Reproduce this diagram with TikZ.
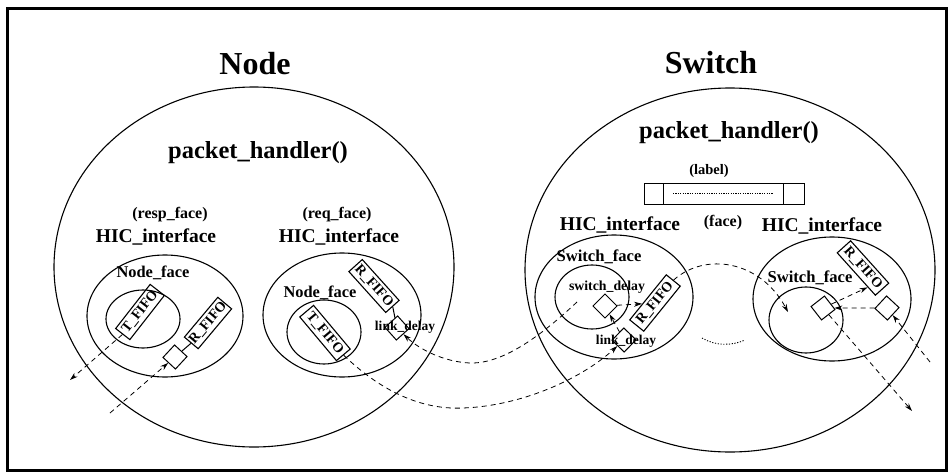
\documentclass[tikz,border=0pt]{standalone}
\usepackage{fontspec}
\setmainfont{Liberation Serif}
\usetikzlibrary{shapes.geometric,arrows.meta,calc}
\begin{document}
\begin{tikzpicture}[x=1pt,y=-1pt,
  ell/.style={draw,ellipse,inner sep=0pt,line width=1.1pt},
  fifo/.style={draw,rectangle,inner sep=0pt,line width=1.1pt,minimum width=#1,minimum height=18pt,font=\fontsize{14}{14}\selectfont\bfseries},
  fifo/.default=55pt,
  sqbox/.style={draw,rectangle,inner sep=0pt,line width=1pt,minimum size=17pt},
  txt/.style={inner sep=0pt,font=\fontsize{#1}{#1}\selectfont\bfseries},
  darr/.style={dash pattern=on 5pt off 4pt,line width=0.8pt,-{Stealth[length=8pt,width=5pt]}}
]
\useasboundingbox (0,0) rectangle (950,476);
\draw[line width=3pt] (7,9) rectangle (946,470);

% titles
\node[txt=32] (tNode) at (255,64) {Node};
\node[txt=32] (tSwitch) at (711,63) {Switch};

% big ellipses
\node[ell,minimum width=400pt,minimum height=360pt] (nodeE) at (254,267) {};
\node[ell,minimum width=410pt,minimum height=364pt] (swE) at (730,270) {};

\node[txt=24.5] (ph1) at (258,153) {packet\_handler()};
\node[txt=24.5] (ph2) at (729,133) {packet\_handler()};

% node labels
\node[txt=16] (resp) at (170,215) {(resp\_face)};
\node[txt=19.5] (hic1) at (156,237) {HIC\_interface};
\node[txt=16] (req) at (337,215) {(req\_face)};
\node[txt=19.5] (hic2) at (339,237) {HIC\_interface};

% switch labels
\node[txt=14.5] (lab) at (709,171) {(label)};
\node[draw,line width=1pt,minimum width=160pt,minimum height=21pt,inner sep=0pt] (lbox) at (724,193.5) {};
\draw[line width=0.9pt] (663,183) -- (663,204) (783,183) -- (783,204);
\draw[dash pattern=on 1.2pt off 1.2pt,line width=0.6pt] (673,193) -- (773,193);
\node[txt=19.5] (hic3) at (620,225) {HIC\_interface};
\node[txt=16] (face) at (723,223) {(face)};
\node[txt=19.5] (hic4) at (822,226) {HIC\_interface};

% ---- Node, resp face
\node[ell,minimum width=156pt,minimum height=122pt] (hicL) at (165,316) {};
\node[txt=16.4] (nf1) at (153,273) {Node\_face};
\node[ell,minimum width=74pt,minimum height=58pt] (circL) at (143,319) {};
\node[fifo=56pt,rotate=52] (tfifoL) at (140,312) {T\_FIFO};
\node[fifo=52pt,rotate=50] (rfifoL) at (208,323) {R\_FIFO};
\node[sqbox,rotate=47] (sqL) at (175,357) {};
\draw[line width=1pt] (sqL) -- (rfifoL.west);
\coordinate (outL) at (70,380);
\coordinate (inL) at (110,413);
\draw[darr] (tfifoL.west) -- (outL);
\draw[darr] (inL) -- (sqL);

% ---- Node, req face
\node[ell,minimum width=158pt,minimum height=124pt] (hicR) at (342,315) {};
\node[txt=16.4] (nf2) at (320,293) {Node\_face};
\node[ell,minimum width=74pt,minimum height=64pt] (circR) at (324,332) {};
\node[fifo=57pt,rotate=-50] (tfifoR) at (325,333) {T\_FIFO};
\node[fifo=55pt,rotate=-48] (rfifoR) at (374,286) {R\_FIFO};
\node[sqbox,rotate=42] (sqR) at (397,328) {};
\draw[line width=1pt] (rfifoR.east) -- (sqR);
\node[txt=13.5] (ld1) at (405,327) {link\_delay};

% ---- Switch, left face
\node[ell,minimum width=158pt,minimum height=124pt] (shicL) at (614,297) {};
\node[txt=16.6] (sf1) at (599,257) {Switch\_face};
\node[ell,minimum width=74pt,minimum height=64pt] (scircL) at (592,297) {};
\node[txt=13.8] (sd) at (607,287) {switch\_delay};
\node[sqbox,rotate=45] (ssqD) at (605,306) {};
\node[fifo=58pt,rotate=51] (srfifoL) at (655,303) {R\_FIFO};
\node[sqbox,rotate=46] (sld) at (624,340) {};
\node[txt=13.5] (ld2) at (626,341) {link\_delay};
\draw[darr] (sld) -- (ssqD);
\draw[darr] (ssqD) -- (srfifoL);

% ---- Switch, right face
\node[ell,minimum width=158pt,minimum height=124pt] (shicR) at (832,299) {};
\node[txt=16.6] (sf2) at (810,278) {Switch\_face};
\node[ell,minimum width=74pt,minimum height=66pt] (scircR) at (806,320) {};
\node[fifo=57pt,rotate=-48] (srfifoR) at (863,268) {R\_FIFO};
\node[sqbox,rotate=38] (ssqI) at (823,308) {};
\node[sqbox,rotate=47] (ssqO) at (887,308) {};
\coordinate (inR) at (788,312);
\coordinate (cR) at (930,362);
\coordinate (outR) at (912,411);
\draw[darr] (ssqI) -- ($(srfifoR.south)!0.6!(srfifoR.south east)$);
\draw[darr] (ssqO) -- (ssqI);
\draw[darr] (cR) -- (ssqO);
\draw[darr] (ssqI) -- (outR);

% ---- long connectors
\coordinate (sw1) at (577,302);
\draw[darr] (sw1) .. controls (545,332) and (505,364) .. (470,363) .. controls (445,362) and (420,350) .. (sqR);
\draw[darr] (tfifoR.east) .. controls (380,390) and (420,410) .. (463,408) .. controls (520,406) and (580,380) .. (sld);
\draw[darr] (srfifoL.east) .. controls (705,252) and (760,260) .. (inR);

% dotted "more faces" arc
\draw[dash pattern=on 1.2pt off 1.6pt,line width=0.9pt] (702,338) .. controls (715,346) and (732,346) .. (745,340);
\end{tikzpicture}
\end{document}
